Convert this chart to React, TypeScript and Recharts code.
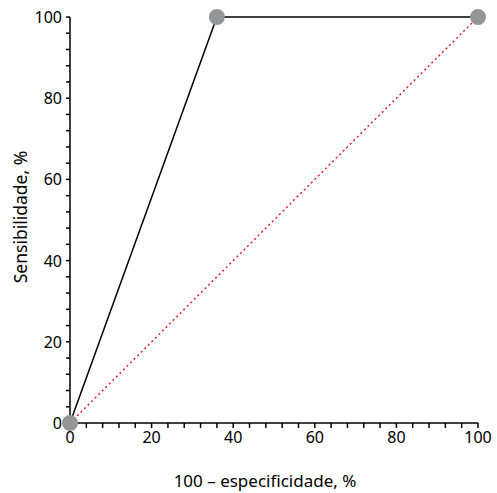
import { LineChart, Line, XAxis, YAxis } from 'recharts'

// curva ROC
const fpr = [0, 36, 100]
const sens = [0, 100, 100]
// linha de referência
const refX = [0, 100]
const refY = [0, 100]
const axisTicks = [0, 4, 8, 12, 16, 20, 24, 28, 32, 36, 40, 44, 48, 52, 56, 60, 64, 68, 72, 76, 80, 84, 88, 92, 96, 100]
const labeledTicks = [0, 20, 40, 60, 80, 100]

const rocData = fpr.map((x, i) => ({ x, y: sens[i] }))
const refData = refX.map((x, i) => ({ x, y: refY[i] }))

const FONT = '"Noto Sans", sans-serif'

const XTick = ({ x, y, payload }: any) => {
  if (!labeledTicks.includes(payload.value)) return null
  return (
    <text x={x} y={y} dy={12} textAnchor="middle" fontSize={16} fontFamily={FONT} fill="#000">
      {payload.value}
    </text>
  )
}

const YTick = ({ x, y, payload }: any) => {
  if (!labeledTicks.includes(payload.value)) return null
  return (
    <text x={x} y={y} dy={6} textAnchor="end" fontSize={16} fontFamily={FONT} fill="#000">
      {payload.value}
    </text>
  )
}

export default function App() {
  return (
    <div style={{ position: 'absolute', left: 0, top: 0, background: '#fff' }}>
      <LineChart width={497} height={493} margin={{ top: 17, right: 19, left: 0, bottom: 0 }}>
        <XAxis
          dataKey="x"
          type="number"
          domain={[0, 100]}
          ticks={axisTicks}
          interval={0}
          height={70}
          tick={<XTick />}
          tickSize={5}
          tickMargin={3}
          stroke="#000"
          strokeWidth={1.5}
          allowDuplicatedCategory={false}
          label={{
            content: () => (
              <text x={265} y={487} textAnchor="middle" fontSize={17} fontFamily={FONT} fill="#000">
                100 – especificidade, %
              </text>
            ),
          }}
        />
        <YAxis
          dataKey="y"
          type="number"
          domain={[0, 100]}
          ticks={axisTicks}
          interval={0}
          width={70}
          tick={<YTick />}
          tickSize={4}
          tickMargin={4}
          stroke="#000"
          strokeWidth={1.5}
          label={{
            content: () => (
              <text
                x={20}
                y={217}
                transform="rotate(-90 20 217)"
                textAnchor="middle"
                dominantBaseline="central"
                fontSize={17.5}
                fontFamily={FONT}
                fill="#000"
              >
                Sensibilidade, %
              </text>
            ),
          }}
        />
        <Line
          data={refData}
          dataKey="y"
          stroke="#e0202a"
          strokeWidth={1.5}
          strokeDasharray="2 3"
          dot={false}
          isAnimationActive={false}
        />
        <Line
          data={rocData}
          dataKey="y"
          stroke="#000"
          strokeWidth={1.5}
          dot={{ r: 8, fill: '#939598', stroke: 'none' }}
          isAnimationActive={false}
        />
      </LineChart>
    </div>
  )
}
